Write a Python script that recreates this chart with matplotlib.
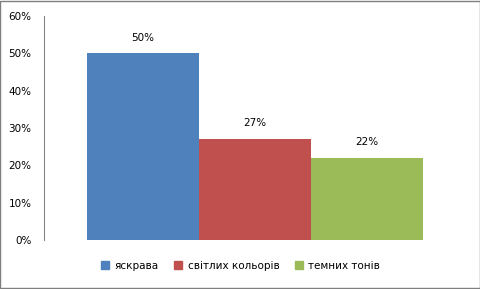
import matplotlib.pyplot as plt
from matplotlib.patches import Rectangle

series = ["яскрава", "світлих кольорів", "темних тонів"]
values = [50, 27, 22]
colors = ["#4F81BD", "#C0504D", "#9BBB59"]
yticks = [0, 10, 20, 30, 40, 50, 60]

fig = plt.figure(figsize=(4.81, 2.89), dpi=100)
ax = fig.add_axes([44 / 481, 1 - 240 / 289, 422 / 481, 224 / 289])

positions = range(len(values))
bars = ax.bar(positions, values, width=1.0, color=colors, label=series)
for b, v in zip(bars, values):
    ax.text(b.get_x() + b.get_width() / 2, v + 2.9, f"{v}%",
            ha="center", va="bottom", fontsize=7.5, color="#000000")

ax.set_xlim(-0.884, 2.884)
ax.set_ylim(0, 60)
ax.set_yticks(yticks)
ax.set_yticklabels([f"{t}%" for t in yticks], fontsize=7.5)
ax.tick_params(axis="y", length=0, pad=9)
ax.set_xticks([])
for side in ["top", "right", "bottom"]:
    ax.spines[side].set_visible(False)
ax.spines["left"].set_color("#868686")
ax.spines["left"].set_linewidth(0.8)

handles = [Rectangle((0, 0), 1, 1, color=c) for c in colors]
fig.legend(handles, series, loc="center", bbox_to_anchor=(0.5, 1 - 266 / 289),
           ncol=3, frameon=False, fontsize=7.5, handlelength=0.8,
           handleheight=0.8, handletextpad=0.5, columnspacing=1.5)

fig.add_artist(Rectangle((0.001, 0.002), 0.997, 0.995, transform=fig.transFigure,
                         fill=False, edgecolor="#7f7f7f", linewidth=1.0))

fig.savefig("out.png", dpi=100)
